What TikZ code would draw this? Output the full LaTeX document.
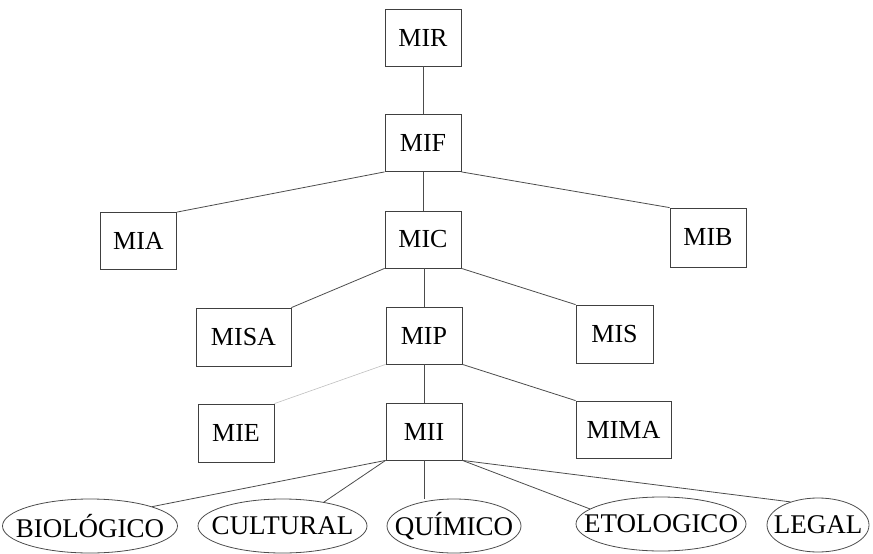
\documentclass[tikz,border=0pt]{standalone}
\usepackage{fontspec}
\setmainfont{Liberation Serif}
\usetikzlibrary{shapes.geometric, positioning}

\newcommand{\ovaltext}[1]{\makebox[0pt]{#1}}

\begin{document}
\begin{tikzpicture}[
    x=1pt, y=-1pt,
    box/.style={rectangle, draw=black!75, line width=0.8pt, minimum width=76pt, minimum height=57pt, inner sep=2pt, font=\fontsize{26}{30}\selectfont},
    widebox/.style={box, minimum width=95pt},
    oval/.style={ellipse, draw=black!70, line width=0.8pt, minimum height=54pt, inner sep=0pt, font=\fontsize{27}{30}\selectfont},
    link/.style={draw=black!70, line width=0.8pt},
    faint/.style={draw=black!25, line width=0.6pt}
  ]
    \useasboundingbox (0,0) rectangle (873,554);

    % Top chain
    \node[box] at (423, 37.5) (mir) {MIR};
    \node[box] at (423, 143) (mif) {MIF};

    % Second level
    \node[box] at (138.5, 241) (mia) {MIA};
    \node[box] at (423, 239.5) (mic) {MIC};
    \node[box, minimum height=59pt] at (708, 237.5) (mib) {MIB};

    % Third level
    \node[widebox, minimum height=58pt] at (243.5, 337) (misa) {MISA};
    \node[box] at (424, 335.5) (mip) {MIP};
    \node[box, minimum width=77pt, minimum height=58pt] at (614.5, 334) (mis) {MIS};

    % Fourth level
    \node[box, minimum height=58pt] at (236, 433) (mie) {MIE};
    \node[box] at (424, 431.5) (mii) {MII};
    \node[widebox] at (623.5, 429.5) (mima) {MIMA};

    % Ovals
    \node[oval, minimum width=175pt] at (90, 526) (bio) {\ovaltext{BIOLÓGICO}};
    \node[oval, minimum width=169pt] at (282.5, 526) (cul) {\ovaltext{CULTURAL}};
    \node[oval, minimum width=134pt] at (454, 526) (qui) {\ovaltext{QUÍMICO}};
    \node[oval, minimum width=170pt] at (661, 524) (eto) {\ovaltext{ETOLOGICO}};
    \node[oval, minimum width=102pt] at (818, 525) (leg) {\ovaltext{LEGAL}};

    % Links
    \draw[link] (mir) -- (mif);
    \draw[link] (mif.south west) -- (mia.north east);
    \draw[link] (mif) -- (mic);
    \draw[link] (mif.south east) -- (mib.north west);
    \draw[link] (mic.south west) -- (misa.north east);
    \draw[link] (mic.south -| mip) -- (mip);
    \draw[link] (mic.south east) -- (mis.north west);
    \draw[faint] (mip.south west) -- (mie.north east);
    \draw[link] (mip) -- (mii);
    \draw[link] (mip.south east) -- (mima.north west);
    \draw[link] (mii.south west) -- (bio.north east);
    \draw[link] (mii.south west) -- (cul.30);
    \draw[link] (mii.south) -- (mii.south |- qui.north);
    \draw[link] (mii.south east) -- (eto.168);
    \draw[link] (mii.south east) -- (leg.140);
  \end{tikzpicture}
\end{document}
